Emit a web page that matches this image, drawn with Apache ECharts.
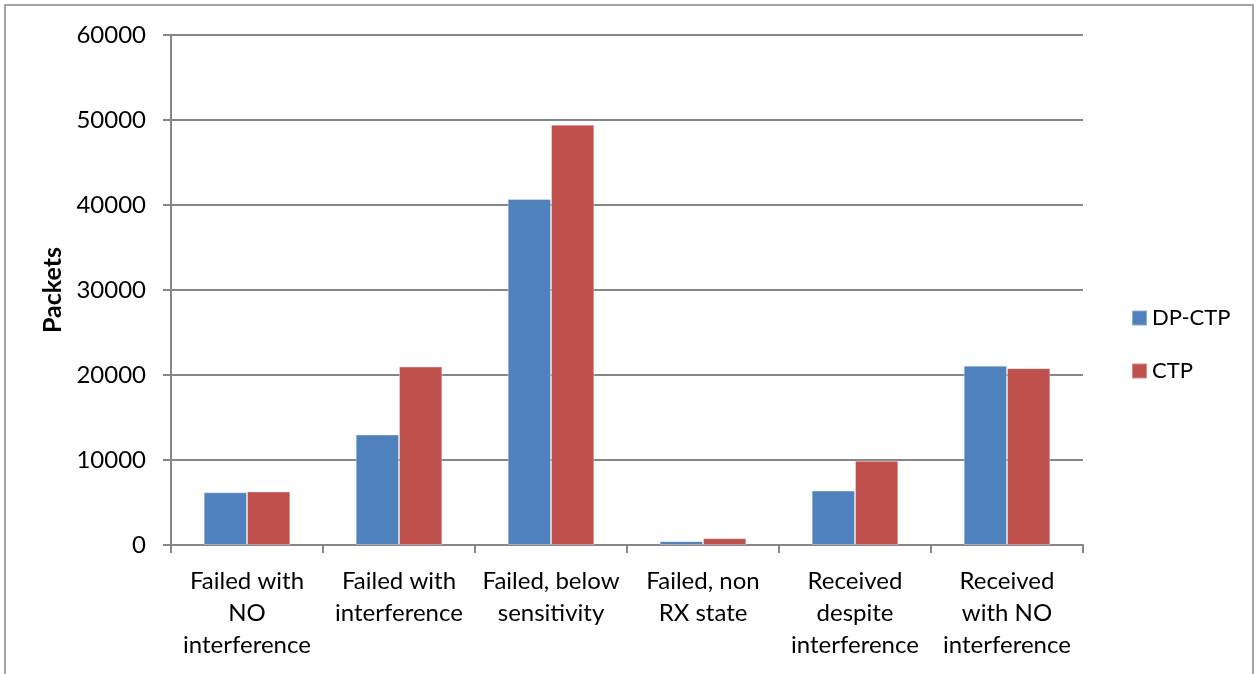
<!DOCTYPE html>
<html>
<head>
<meta charset="utf-8">
<script src="https://cdn.jsdelivr.net/npm/echarts@6/dist/echarts.min.js"></script>
<style>
  html, body { margin: 0; padding: 0; background: #fff; }
  #chart { width: 1259px; height: 674px; }
</style>
</head>
<body>
<div id="chart"></div>
<script>
// Packet outcome categories (x axis)
const categories = [
  'Failed with\nNO\ninterference',
  'Failed with\ninterference',
  'Failed, below\nsensitivity',
  'Failed, non\nRX state',
  'Received\ndespite\ninterference',
  'Received\nwith NO\ninterference'
];
// Packet counts per protocol
const dpCtp = [6200, 13000, 40700, 450, 6400, 21100];
const ctp = [6300, 21000, 49450, 800, 9900, 20800];
const seriesNames = ['DP-CTP', 'CTP'];
const yTicks = { min: 0, max: 60000, interval: 10000 };

const FONT = 'Lato';
const GREY = '#868686';

const chart = echarts.init(document.getElementById('chart'));
chart.setOption({
  animation: false,
  backgroundColor: '#ffffff',
  textStyle: { fontFamily: FONT },
  graphic: [{
    type: 'rect',
    shape: { x: 5, y: 5, width: 1248, height: 700 },
    style: { fill: 'none', stroke: GREY, lineWidth: 1.5 },
    silent: true
  }],
  grid: { left: 171, right: 176, top: 35, bottom: 129 },
  legend: {
    orient: 'vertical',
    left: 1126,
    top: 302,
    itemWidth: 15,
    itemHeight: 15,
    itemGap: 31,
    icon: 'rect',
    textStyle: { fontFamily: FONT, fontSize: 22, color: '#000' },
    data: seriesNames
  },
  xAxis: {
    type: 'category',
    data: categories,
    axisLine: { lineStyle: { color: GREY, width: 2 } },
    axisTick: { show: true, length: 8, alignWithLabel: false, lineStyle: { color: GREY, width: 2 } },
    axisLabel: {
      interval: 0,
      margin: 20,
      fontFamily: FONT,
      fontSize: 24,
      lineHeight: 32,
      color: '#000',
      align: 'center'
    }
  },
  yAxis: {
    type: 'value',
    min: yTicks.min,
    max: yTicks.max,
    interval: yTicks.interval,
    name: 'Packets',
    nameLocation: 'middle',
    nameGap: 103,
    nameRotate: 90,
    nameTextStyle: { fontFamily: FONT, fontSize: 25, fontWeight: 'bold', color: '#000' },
    axisLine: { show: true, lineStyle: { color: GREY, width: 2 } },
    axisTick: { show: true, length: 8, lineStyle: { color: GREY, width: 2 } },
    axisLabel: {
      margin: 25,
      fontFamily: FONT,
      fontSize: 24,
      color: '#000',
      formatter: (v) => String(v)
    },
    splitLine: { show: true, lineStyle: { color: GREY, width: 2 } }
  },
  series: [
    {
      name: seriesNames[0],
      type: 'bar',
      data: dpCtp,
      barGap: '0%',
      barCategoryGap: '43%',
      itemStyle: { color: '#4F81BD', borderColor: 'rgba(255,255,255,0.35)', borderWidth: 1 }
    },
    {
      name: seriesNames[1],
      type: 'bar',
      data: ctp,
      barGap: '0%',
      barCategoryGap: '43%',
      itemStyle: { color: '#C0504D', borderColor: 'rgba(255,255,255,0.35)', borderWidth: 1 }
    }
  ]
});
</script>
</body>
</html>
